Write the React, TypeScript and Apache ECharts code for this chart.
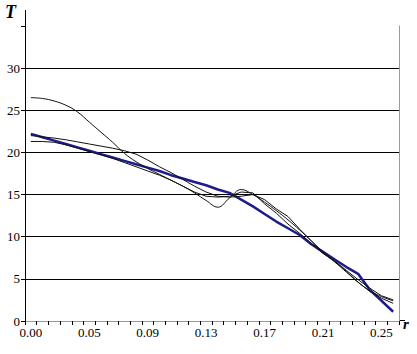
import React, { useEffect, useRef } from "react";
import * as echarts from "echarts";

// r categories (32 points)
const R = [
  "0.000", "0.009", "0.019", "0.028", "0.038", "0.047", "0.054", "0.062",
  "0.070", "0.078", "0.086", "0.094", "0.102", "0.110", "0.118", "0.126",
  "0.134", "0.142", "0.150", "0.158", "0.166", "0.174", "0.182", "0.190",
  "0.198", "0.206", "0.214", "0.222", "0.230", "0.238", "0.246", "0.254",
];
const LABEL_IDX = [0, 5, 10, 15, 20, 25, 30];
const Y_TICKS = [0, 5, 10, 15, 20, 25, 30];

const BLUE = [22.2, 21.8, 21.4, 21.0, 20.6, 20.2, 19.8, 19.4, 19.0, 18.6, 18.2, 17.8, 17.3, 16.9, 16.5, 16.1,
  15.6, 15.2, 14.4, 13.6, 12.7, 11.8, 11.0, 10.2, 9.1, 8.2, 7.3, 6.4, 5.6, 3.7, 2.4, 1.1];
const HIGH = [26.5, 26.4, 26.1, 25.6, 24.8, 23.6, 22.4, 21.2, 19.9, 18.9, 18.1, 17.4, 16.7, 16.0, 15.2, 14.3,
  13.5, 14.6, 15.6, 15.0, 14.1, 13.1, 12.0, 10.8, 9.5, 8.1, 7.0, 5.8, 4.6, 3.6, 2.9, 2.4];
const L1 = [22.0, 21.85, 21.7, 21.5, 21.25, 21.0, 20.75, 20.5, 20.2, 19.8, 19.1, 18.3, 17.6, 16.8, 16.0, 15.3,
  14.8, 14.7, 14.8, 15.0, 14.4, 13.3, 12.4, 10.9, 9.5, 8.2, 7.1, 6.0, 4.9, 3.9, 3.0, 2.5];
const L2 = [21.3, 21.3, 21.2, 20.9, 20.5, 20.1, 19.7, 19.3, 18.8, 18.3, 17.8, 17.3, 16.7, 16.0, 15.3, 14.8,
  14.7, 14.8, 15.3, 15.2, 13.9, 12.8, 11.5, 10.4, 9.2, 8.0, 7.1, 5.9, 4.6, 3.5, 2.7, 2.1];

const FONT = "'Liberation Serif', 'Times New Roman', serif";

export default function App() {
  const ref = useRef<HTMLDivElement>(null);
  useEffect(() => {
    if (!ref.current) return;
    const chart = echarts.init(ref.current, null, { renderer: "svg" });
    const blackLine = (data: number[], smooth: boolean | number) => ({
      type: "line",
      data,
      symbol: "none",
      smooth,
      lineStyle: { color: "#111", width: 1 },
      z: 3,
    });
    chart.setOption({
      animation: false,
      grid: { left: 25, right: 18, top: 26, bottom: 33 },
      xAxis: [
        {
          type: "category",
          data: R,
          boundaryGap: true,
          axisLine: { show: true, lineStyle: { color: "#000", width: 1 } },
          axisTick: { show: true, interval: 0, length: 4, lineStyle: { color: "#000" } },
          axisLabel: {
            interval: (i: number) => LABEL_IDX.includes(i),
            formatter: (v: string) => Number(v).toFixed(2),
            color: "#000",
            fontFamily: FONT,
            fontSize: 13,
            margin: 5,
          },
          splitLine: { show: false },
        },
        {
          type: "category",
          position: "top",
          data: R,
          boundaryGap: true,
          axisLine: { show: true, lineStyle: { color: "#9a9a9a", width: 1 } },
          axisTick: { show: false },
          axisLabel: { show: false },
          splitLine: { show: false },
        },
      ],
      yAxis: [
        {
          type: "value",
          min: 0,
          max: 35,
          interval: 5,
          axisLine: { show: true, lineStyle: { color: "#000", width: 1 } },
          axisTick: { show: true, length: 4, lineStyle: { color: "#000" } },
          axisLabel: {
            formatter: (v: number) => (Y_TICKS.includes(v) ? String(v) : ""),
            color: "#000",
            fontFamily: FONT,
            fontSize: 13,
            margin: 5,
          },
          splitLine: { show: true, showMaxLine: false, lineStyle: { color: "#000", width: 1 } },
        },
        {
          type: "value",
          position: "right",
          min: 0,
          max: 35,
          interval: 5,
          axisLine: { show: true, lineStyle: { color: "#9a9a9a", width: 1 } },
          axisTick: { show: false },
          axisLabel: { show: false },
          splitLine: { show: false },
        },
      ],
      series: [
        {
          type: "line",
          data: BLUE,
          symbol: "none",
          lineStyle: { color: "#1c1c8c", width: 2.5 },
          z: 2,
        },
        blackLine(HIGH, 0.4),
        blackLine(L1, false),
        blackLine(L2, false),
      ],
      graphic: [
        { type: "line", shape: { x1: 25.5, y1: 10, x2: 25.5, y2: 26 }, style: { stroke: "#000", lineWidth: 1 } },
        { type: "line", shape: { x1: 399, y1: 320.5, x2: 405, y2: 320.5 }, style: { stroke: "#000", lineWidth: 1 } },
        {
          type: "text",
          left: 5,
          top: 3,
          style: { text: "T", font: `italic bold 18px ${FONT}`, fill: "#000" },
        },
        {
          type: "text",
          left: 403,
          top: 316,
          style: { text: "r", font: `italic bold 15px ${FONT}`, fill: "#000" },
        },
      ],
    });
    return () => chart.dispose();
  }, []);
  return (
    <div
      ref={ref}
      style={{ position: "absolute", left: 0, top: 0, width: 417, height: 354, background: "#fff" }}
    />
  );
}
